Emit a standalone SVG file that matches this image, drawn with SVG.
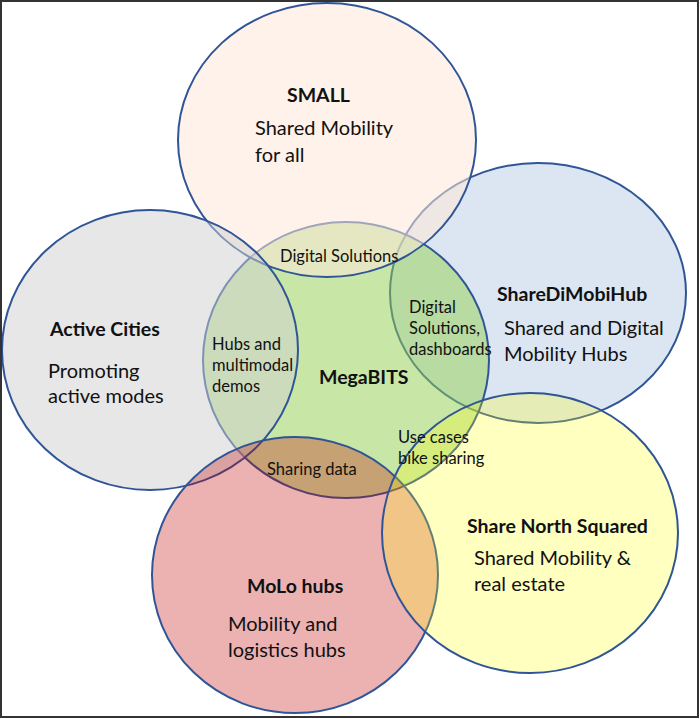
<svg xmlns="http://www.w3.org/2000/svg" width="700" height="719" viewBox="0 0 700 719">
<style>
.c{stroke:#2F5597;stroke-width:2}
text{font-family:Lato,"Open Sans",sans-serif;fill:#111}
.t{font-size:19.5px;font-weight:bold}
.b{font-size:20px}
.s{font-size:16.5px}
</style>
<rect x="0" y="0" width="700" height="719" fill="#fff"/>
<g id="node-sharedimobihub"><ellipse class="c" cx="538" cy="293" rx="148" ry="130" fill="#DCE6F2"/></g>
<g id="node-megabits"><ellipse class="c" cx="346" cy="360" rx="143" ry="138" fill="#92D050" fill-opacity="0.5"/></g>
<g id="node-small"><ellipse class="c" cx="327" cy="140" rx="149" ry="137" fill="#FEE8D8" fill-opacity="0.55"/></g>
<g id="node-activecities"><ellipse class="c" cx="150" cy="350" rx="148" ry="140" fill="#CFCFCF" fill-opacity="0.5"/></g>
<g id="node-molohubs"><ellipse class="c" cx="295" cy="575" rx="143" ry="138" fill="#C00000" fill-opacity="0.3"/></g>
<g id="node-sharenorthsquared"><ellipse class="c" cx="530" cy="533" rx="148" ry="140" fill="#FFFF00" fill-opacity="0.25"/></g>
<g id="labels">
<text class="t" x="287" y="102">SMALL</text>
<text class="b" x="255" y="135">Shared Mobility</text>
<text class="b" x="255" y="162">for all</text>
<text class="s" x="280" y="262">Digital Solutions</text>
<text class="t" x="50" y="336">Active Cities</text>
<text class="b" x="48" y="378">Promoting</text>
<text class="b" x="48" y="403">active modes</text>
<text class="s" x="212" y="350">Hubs and</text>
<text class="s" x="212" y="371">multimodal</text>
<text class="s" x="212" y="392">demos</text>
<text class="t" x="319" y="384">MegaBITS</text>
<text class="s" x="409" y="313">Digital</text>
<text class="s" x="409" y="334">Solutions,</text>
<text class="s" x="409" y="355">dashboards</text>
<text class="s" x="398" y="443">Use cases</text>
<text class="s" x="398" y="464">bike sharing</text>
<text class="s" x="267" y="475">Sharing data</text>
<text class="t" x="497" y="301">ShareDiMobiHub</text>
<text class="b" x="504" y="335">Shared and Digital</text>
<text class="b" x="504" y="361">Mobility Hubs</text>
<text class="t" x="467" y="533">Share North Squared</text>
<text class="b" x="474" y="565">Shared Mobility &amp;</text>
<text class="b" x="474" y="591">real estate</text>
<text class="t" x="247" y="593">MoLo hubs</text>
<text class="b" x="228" y="631">Mobility and</text>
<text class="b" x="228" y="657">logistics hubs</text>
</g>
<rect x="1" y="1" width="697" height="716" fill="none" stroke="#333" stroke-width="2"/>
</svg>
